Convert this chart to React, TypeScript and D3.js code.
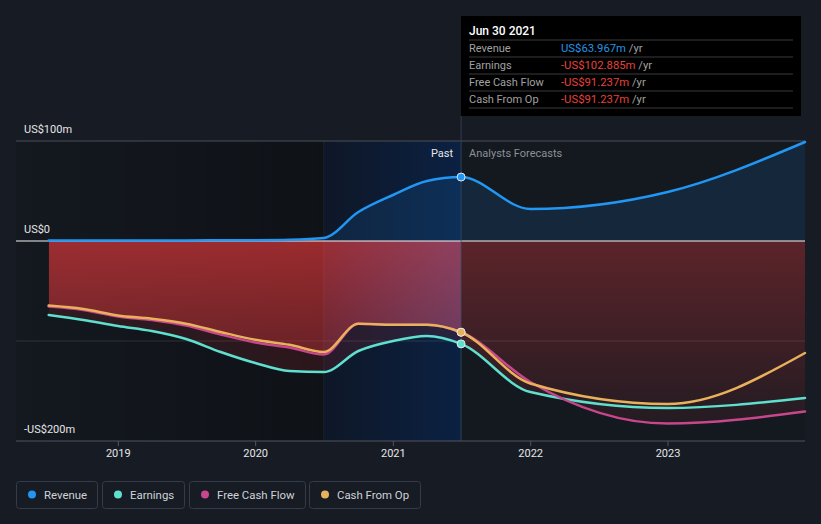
import React from 'react';
import * as d3 from 'd3';

// ---- data (US$ millions) ----
const pastDates = [
  '2018-06-30', '2018-09-30', '2018-12-31', '2019-03-31', '2019-06-30', '2019-09-30',
  '2019-12-31', '2020-03-31', '2020-06-30', '2020-09-30', '2020-12-31', '2021-03-31', '2021-06-30',
];
const forecastDates = ['2021-12-31', '2022-12-31', '2023-12-31'];

const revenuePast = [0.6, 0.6, 0.6, 0.6, 0.6, 0.7, 0.8, 1.2, 3, 29, 46, 60, 63.967];
const revenueForecast = [32, 49, 99];

const earningsPast = [-74, -79, -85, -90, -98, -111, -122, -130, -131, -110, -100, -95, -102.885];
const earningsForecast = [-151, -167, -157];

const fcfPast = [-65.6, -69, -75.5, -79, -84.5, -93.5, -101.5, -106.5, -113.5, -82.7, -83.7, -83.7, -91.237];
const fcfForecast = [-141, -182.6, -170.5];

const cfoPast = [-64.6, -68, -74.4, -77.7, -82.7, -91, -98.8, -103.8, -111, -82.7, -83.7, -83.7, -91.237];
const cfoForecast = [-142.5, -163, -112];

const yTickValues = [100, 0, -200];
const yTickLabels = ['US$100m', 'US$0', '-US$200m'];
const gridValues = [100, -100];
const xTickYears = ['2019', '2020', '2021', '2022', '2023'];

const legendNames = ['Revenue', 'Earnings', 'Free Cash Flow', 'Cash From Op'];
const legendColors = ['#2196f3', '#5fe0cf', '#c8468b', '#eab15c'];

const tooltipTitle = 'Jun 30 2021';
const tooltipLabels = ['Revenue', 'Earnings', 'Free Cash Flow', 'Cash From Op'];
const tooltipValues = ['US$63.967m', '-US$102.885m', '-US$91.237m', '-US$91.237m'];
const tooltipValueColors = ['#2394e6', '#e8413c', '#e8413c', '#e8413c'];

const highlightStart = '2020-06-30';
const boundaryDate = '2021-06-30';

const FONT = 'Roboto, "Noto Sans", sans-serif';

export default function App() {
  const W = 821;
  const H = 524;
  const parse = d3.timeParse('%Y-%m-%d');
  const allDates = pastDates.concat(forecastDates).map((d) => parse(d) as Date);

  const x = d3
    .scaleTime()
    .domain([parse('2018-06-30') as Date, parse('2023-12-31') as Date])
    .range([48.7, 805]);
  const y = d3.scaleLinear().domain([-200, 100]).range([441, 141]);

  const revenue = revenuePast.concat(revenueForecast);
  const earnings = earningsPast.concat(earningsForecast);
  const fcf = fcfPast.concat(fcfForecast);
  const cfo = cfoPast.concat(cfoForecast);

  type P = [Date, number];
  const pts = (vals: number[]): P[] => vals.map((v, i) => [allDates[i], v]);

  const line = d3
    .line<P>()
    .x((d) => x(d[0]))
    .y((d) => y(d[1]))
    .curve(d3.curveMonotoneX);
  const area = d3
    .area<P>()
    .x((d) => x(d[0]))
    .y0(y(0))
    .y1((d) => y(d[1]))
    .curve(d3.curveMonotoneX);

  const left = 16;
  const right = 805;
  const top = y(100);
  const bottom = y(-200);
  const xHl = x(parse(highlightStart) as Date);
  const xB = x(parse(boundaryDate) as Date);
  const xStart = x(parse(pastDates[0]) as Date);

  const series = [
    { name: 'Revenue', vals: revenue, color: legendColors[0] },
    { name: 'Earnings', vals: earnings, color: legendColors[1] },
    { name: 'Free Cash Flow', vals: fcf, color: legendColors[2] },
    { name: 'Cash From Op', vals: cfo, color: legendColors[3] },
  ];

  const bIdx = pastDates.length - 1;

  // legend layout
  const legendX = [16, 102, 189, 309];
  const legendW = [81, 82, 116, 111];

  return (
    <svg
      width={W}
      height={H}
      style={{ position: 'absolute', left: 0, top: 0, display: 'block', background: '#161b24' }}
      fontFamily={FONT}
    >
      <defs>
        <linearGradient id="pastShade" x1={left} x2={xHl} y1={0} y2={0} gradientUnits="userSpaceOnUse">
          <stop offset="0" stopColor="#000" stopOpacity={0.02} />
          <stop offset="1" stopColor="#000" stopOpacity={0.28} />
        </linearGradient>
        <linearGradient id="hlShade" x1={xHl} x2={xB} y1={0} y2={0} gradientUnits="userSpaceOnUse">
          <stop offset="0" stopColor="#0e1727" />
          <stop offset="1" stopColor="#0b2142" />
        </linearGradient>
        <linearGradient id="redUpper" x1={0} x2={0} y1={y(0)} y2={y(-100)} gradientUnits="userSpaceOnUse">
          <stop offset="0" stopColor="#e5393b" stopOpacity={0.6} />
          <stop offset="1" stopColor="#e5393b" stopOpacity={0.36} />
        </linearGradient>
        <linearGradient id="redForecast" x1={0} x2={0} y1={y(0)} y2={y(-200)} gradientUnits="userSpaceOnUse">
          <stop offset="0" stopColor="#e5393b" stopOpacity={0.34} />
          <stop offset="1" stopColor="#e5393b" stopOpacity={0.05} />
        </linearGradient>
        <linearGradient id="lavender" x1={xHl} x2={xB} y1={0} y2={0} gradientUnits="userSpaceOnUse">
          <stop offset="0" stopColor="#6e78d2" stopOpacity={0.02} />
          <stop offset="1" stopColor="#6e78d2" stopOpacity={0.22} />
        </linearGradient>
        <clipPath id="pastClip">
          <rect x={xStart} y={top} width={xB - xStart} height={bottom - top} />
        </clipPath>
        <clipPath id="forecastClip">
          <rect x={xB} y={top} width={right - xB} height={bottom - top} />
        </clipPath>
        <clipPath id="hlClip">
          <rect x={xHl} y={top} width={xB - xHl} height={bottom - top} />
        </clipPath>
        <clipPath id="negUnion">
          <path d={area(pts(earnings)) || ''} />
          <path d={area(pts(fcf)) || ''} />
          <path d={area(pts(cfo)) || ''} />
        </clipPath>
      </defs>

      {/* chart backgrounds */}
      <rect x={left} y={top} width={right - left} height={bottom - top} fill="#141920" />
      <rect x={left} y={top} width={xHl - left} height={bottom - top} fill="url(#pastShade)" />
      <rect x={xHl} y={top} width={xB - xHl} height={bottom - top} fill="url(#hlShade)" />

      {/* gridlines */}
      {gridValues.map((v) => (
        <line
          key={v}
          x1={left}
          x2={right}
          y1={y(v)}
          y2={y(v)}
          stroke={v === 100 ? '#4a4f59' : '#ffffff'}
          strokeOpacity={v === 100 ? 1 : 0.12}
          strokeWidth={1}
        />
      ))}

      {/* revenue area */}
      <path d={area(pts(revenue)) || ''} fill="#2196f3" fillOpacity={0.12} />

      {/* negative areas */}
      <g clipPath="url(#pastClip)">
        <rect
          x={xStart}
          y={top}
          width={xB - xStart}
          height={bottom - top}
          fill="#e5393b"
          fillOpacity={0.13}
          clipPath="url(#negUnion)"
        />
        <path d={area(pts(cfo)) || ''} fill="url(#redUpper)" />
      </g>
      <g clipPath="url(#hlClip)">
        <path d={area(pts(cfo)) || ''} fill="url(#lavender)" />
      </g>
      <g clipPath="url(#forecastClip)">
        <rect
          x={xB}
          y={top}
          width={right - xB}
          height={bottom - top}
          fill="url(#redForecast)"
          clipPath="url(#negUnion)"
        />
      </g>

      {/* zero line */}
      <line x1={left} x2={right} y1={y(0)} y2={y(0)} stroke="#f2f2f2" strokeWidth={1.2} />

      {/* boundary lines */}
      <line x1={xHl} x2={xHl} y1={top} y2={bottom} stroke="#ffffff" strokeOpacity={0.05} />
      <line x1={xB} x2={xB} y1={116} y2={bottom} stroke="#3a4a66" strokeOpacity={0.7} />

      {/* series lines: draw order earnings, fcf, cfo, revenue */}
      {[1, 2, 3, 0].map((i) => (
        <path
          key={series[i].name}
          d={line(pts(series[i].vals)) || ''}
          fill="none"
          stroke={series[i].color}
          strokeWidth={2.5}
          strokeLinejoin="round"
          strokeLinecap="round"
        />
      ))}

      {/* dots at boundary */}
      {[1, 2, 3, 0].map((i) => (
        <circle
          key={'dot' + i}
          cx={xB}
          cy={y(series[i].vals[bIdx])}
          r={4}
          fill={series[i].color}
          stroke="#e8e8e8"
          strokeWidth={1}
        />
      ))}

      {/* past / forecast labels */}
      <text x={xB - 8} y={157} textAnchor="end" fontSize={11} fill="#e6e6e6">
        Past
      </text>
      <text x={xB + 8} y={157} fontSize={11} fill="#8b9099">
        Analysts Forecasts
      </text>

      {/* y labels */}
      {yTickValues.map((v, i) => (
        <text key={v} x={24} y={y(v) - 8} fontSize={11} fill="#e6e6e6">
          {yTickLabels[i]}
        </text>
      ))}

      {/* x axis */}
      <line x1={left} x2={right} y1={bottom} y2={bottom} stroke="#50555f" strokeWidth={1} />
      {xTickYears.map((yr) => {
        const xx = x(parse(yr + '-01-01') as Date);
        return (
          <g key={yr}>
            <line x1={xx} x2={xx} y1={bottom} y2={bottom + 5} stroke="#50555f" />
            <text x={xx} y={457} textAnchor="middle" fontSize={11} fill="#e6e6e6">
              {yr}
            </text>
          </g>
        );
      })}

      {/* tooltip */}
      <rect x={461} y={16} width={340} height={100} fill="#000000" />
      <text x={469} y={34.5} fontSize={12} fontWeight={500} fill="#ffffff">
        {tooltipTitle}
      </text>
      {tooltipLabels.map((lab, i) => {
        const ly = 40 + i * 17;
        return (
          <g key={lab}>
            <line x1={469} x2={793} y1={ly} y2={ly} stroke="#3a3a3a" />
            <text x={469} y={ly + 12} fontSize={11} fill="#a0a0a0">
              {lab}
            </text>
            <text x={561} y={ly + 12} fontSize={11.3}>
              <tspan fill={tooltipValueColors[i]}>{tooltipValues[i]}</tspan>
              <tspan fill="#a0a0a0"> /yr</tspan>
            </text>
          </g>
        );
      })}
      <line x1={469} x2={793} y1={108} y2={108} stroke="#3a3a3a" />

      {/* legend */}
      {legendNames.map((nm, i) => (
        <g key={nm}>
          <rect
            x={legendX[i] + 0.5}
            y={481.5}
            width={legendW[i]}
            height={27}
            rx={3}
            fill="none"
            stroke="#363c47"
          />
          <circle cx={legendX[i] + 16} cy={494.5} r={4} fill={legendColors[i]} />
          <text x={legendX[i] + 28} y={498.5} fontSize={11.4} fill="#cfd2d6">
            {nm}
          </text>
        </g>
      ))}
    </svg>
  );
}
